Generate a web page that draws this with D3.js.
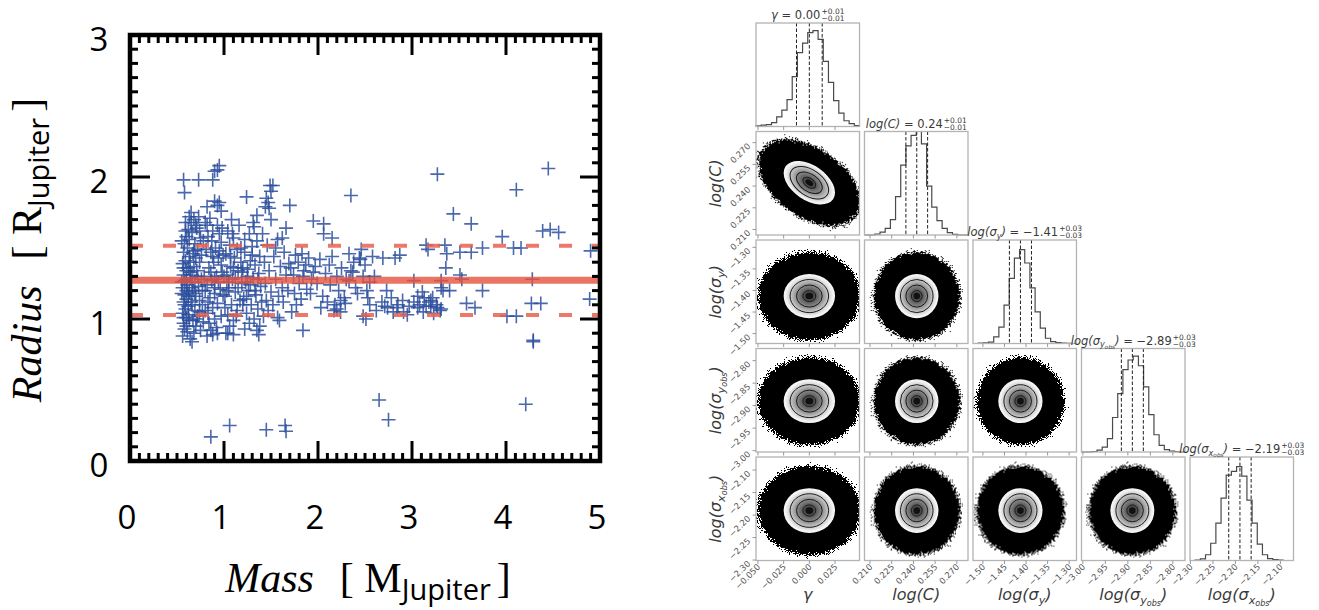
<!DOCTYPE html>
<meta charset="utf-8">
<title>mass radius + corner</title>
<style>
body { margin: 0; background: #fff; }
svg { display: block; }
.corner text { font-family: "DejaVu Sans", sans-serif; fill: #3a3a3a; }
</style>
<body>
<div id="chart"></div>
<script src="https://cdn.jsdelivr.net/npm/d3@7"></script>
<script>
// ---- left panel: planets (mass, radius)
var planets = [
  [3.27,2.02],[4.45,2.06],[4.11,1.91],[2.35,1.87],[3.44,1.74],[3.63,1.67],[3.96,1.58],
  [4.39,1.62],[4.47,1.63],[4.56,1.61],[4.90,1.48],[4.89,1.14],[4.28,1.28],[4.37,1.11],
  [4.27,1.11],[4.29,0.84],[4.29,0.85],[4.21,0.40],[2.65,0.43],[2.75,0.29],[0.86,0.17],
  [1.06,0.25],[1.45,0.22],[1.65,0.25],[1.66,0.21],[4.01,1.02],[4.11,1.02],[4.08,1.50],
  [4.16,1.50],[3.75,1.20],[3.67,1.08],[3.58,1.11],[3.75,1.50],[3.63,1.47],[3.51,1.47],
  [3.51,1.31],[3.53,1.28],[3.36,1.36],[3.37,1.46],[3.15,1.52],[3.17,1.49],[3.31,1.27],
  [3.33,1.20],[3.40,1.20],[3.27,1.08],[3.31,1.07],[3.20,1.09],[3.02,1.27],[2.95,1.03],
  [3.06,1.08],[2.87,1.45],[2.82,1.43],[2.69,1.43],[2.73,1.20],[2.55,1.26],[2.53,1.15],
  [2.51,1.00],[2.48,1.02],[2.71,1.09],[2.84,1.08],[2.91,1.05],[2.80,1.05],[3.06,1.16],
  [3.13,1.15],[3.11,1.19],[3.20,1.13],[3.15,1.09],[2.46,1.49],[2.44,1.43],[2.37,1.33],
  [2.33,1.27],[2.24,1.13],[2.29,1.11],[2.20,1.07],[2.24,1.05],[2.15,1.57],[2.06,1.60],
  [1.95,1.69],[2.06,1.67],[1.84,0.92],[1.70,1.80],[1.66,1.64],[1.62,1.57],[1.49,1.94],
  [1.50,1.90],[1.24,1.86],[1.47,1.82],[1.44,1.79],[1.35,1.73],[1.31,1.68],[1.37,0.89],
  [1.35,0.92],[1.10,0.89],[1.04,0.90],[0.88,0.89],[0.93,0.90],[1.59,0.99],[1.57,1.01],
  [0.57,1.98],[0.73,1.98],[0.58,1.89],[0.88,1.98],[0.93,2.05],[0.95,2.08],[0.90,2.04],
  [0.90,1.83],[0.93,1.80],[0.95,1.82],[0.97,1.76],[0.82,1.79],
  [0.56,0.88],[0.58,0.93],[0.57,0.97],[0.60,1.01],[0.56,1.04],[0.59,1.07],[0.62,1.09],
  [0.57,1.12],[0.60,1.14],[0.58,1.17],[0.63,1.19],[0.56,1.22],[0.61,1.24],[0.58,1.27],
  [0.64,1.29],[0.57,1.31],[0.60,1.34],[0.62,1.36],[0.56,1.39],[0.59,1.41],[0.63,1.44],
  [0.57,1.47],[0.61,1.50],[0.58,1.53],[0.60,1.58],[0.62,1.63],[0.59,1.68],[0.63,1.72],
  [0.55,1.55],[0.61,0.91],[0.64,0.86],[0.60,0.95],[0.62,1.03],[0.65,1.12],[0.55,1.18],
  [0.64,1.33],[0.55,1.26],[0.63,1.56],[0.60,1.20],[0.57,1.01],
  [0.66,0.84],[0.68,0.90],[0.70,0.95],[0.67,0.99],[0.72,1.02],[0.69,1.06],[0.66,1.10],
  [0.74,1.13],[0.70,1.16],[0.67,1.20],[0.73,1.23],[0.69,1.26],[0.76,1.28],[0.66,1.31],
  [0.71,1.34],[0.68,1.37],[0.74,1.40],[0.70,1.43],[0.67,1.46],[0.72,1.49],[0.69,1.53],
  [0.75,1.57],[0.66,1.61],[0.70,1.66],[0.68,1.70],[0.73,1.72],[0.65,1.75],[0.71,1.64],
  [0.78,1.55],[0.77,1.10],[0.79,1.30],[0.78,0.98],[0.75,0.92],[0.80,1.20],[0.76,1.45],
  [0.80,1.68],
  [0.82,0.88],[0.86,0.92],[0.84,0.97],[0.90,1.00],[0.83,1.04],[0.88,1.08],[0.93,1.11],
  [0.85,1.15],[0.90,1.18],[0.96,1.21],[0.82,1.24],[0.87,1.27],[0.92,1.30],[0.98,1.33],
  [0.84,1.36],[0.89,1.40],[0.94,1.43],[0.86,1.47],[0.91,1.50],[0.97,1.54],[0.83,1.58],
  [0.88,1.62],[0.93,1.66],[0.85,1.71],[0.95,1.60],[0.99,1.45],[0.81,1.49],[0.90,1.28],
  [0.97,1.02],[0.92,0.94],[0.99,1.17],[0.87,1.55],
  [1.02,0.90],[1.06,0.95],[1.10,0.99],[1.04,1.03],[1.14,1.06],[1.08,1.10],[1.17,1.13],
  [1.01,1.16],[1.12,1.19],[1.05,1.22],[1.19,1.25],[1.09,1.28],[1.03,1.31],[1.15,1.34],
  [1.07,1.37],[1.18,1.40],[1.11,1.43],[1.02,1.46],[1.14,1.49],[1.06,1.52],[1.10,1.57],
  [1.04,1.62],[1.16,1.66],[1.08,1.70],[1.20,1.10],[1.13,1.02],[1.01,1.08],[1.19,1.33],
  [1.10,1.36],[1.03,1.20],
  [1.22,0.93],[1.27,0.97],[1.32,1.00],[1.24,1.04],[1.36,1.07],[1.29,1.10],[1.21,1.14],
  [1.34,1.17],[1.26,1.20],[1.39,1.23],[1.23,1.26],[1.31,1.29],[1.37,1.32],[1.25,1.35],
  [1.33,1.38],[1.28,1.41],[1.38,1.44],[1.22,1.47],[1.30,1.51],[1.35,1.55],[1.27,1.60],
  [1.32,1.65],[1.40,1.12],[1.38,0.95],[1.25,1.30],
  [1.42,1.02],[1.47,1.06],[1.52,1.10],[1.45,1.13],[1.58,1.16],[1.50,1.19],[1.62,1.22],
  [1.44,1.25],[1.55,1.28],[1.66,1.31],[1.48,1.34],[1.60,1.37],[1.43,1.40],[1.53,1.44],
  [1.64,1.47],[1.46,1.52],[1.57,1.56],[1.68,1.20],[1.41,1.60],[1.50,1.70],[1.55,1.50],
  [1.63,1.12],[1.69,1.39],[1.45,1.85],[1.52,1.94],[1.48,1.78],
  [1.72,1.05],[1.77,1.10],[1.82,1.14],[1.75,1.18],[1.88,1.21],[1.80,1.25],[1.93,1.28],
  [1.74,1.31],[1.85,1.34],[1.97,1.37],[1.79,1.40],[1.90,1.43],[1.83,1.46],[1.95,1.33],
  [1.87,1.38],[1.76,1.45],[1.92,1.18],[1.99,1.25],[1.84,1.30],[1.71,1.36],
  [2.03,1.08],[2.10,1.12],[2.17,1.06],[2.05,1.16],[2.22,1.20],[2.13,1.24],[2.30,1.28],
  [2.08,1.32],[2.25,1.36],[2.38,1.40],[2.15,1.44],[2.33,1.46],[2.45,1.42],[2.20,1.30],
  [2.40,1.22],[2.28,1.15],[2.12,1.38],[2.35,1.34],[2.48,1.30],[2.02,1.42],[2.18,1.10],
  [2.42,1.18],
  [0.58,1.10],[0.62,1.16],[0.66,1.22],[0.69,1.18],[0.72,1.30],[0.60,1.28],[0.64,1.40],
  [0.68,1.48],[0.57,1.36],[0.74,1.05],[0.77,1.20],[0.83,1.12],[0.86,1.33],[0.90,1.22],
  [0.94,1.26],[0.97,1.38],[1.00,1.30],[1.05,1.26],[1.12,1.29],[1.15,1.22],[1.20,1.36],
  [1.24,1.16],[1.28,1.24],[1.33,1.20],[1.36,1.28],[0.63,0.99],[0.71,1.00],[0.80,1.06],
  [0.88,1.44],[0.95,1.48],[1.07,1.44],[1.18,1.50],[1.30,1.45],[0.59,1.62],[0.65,1.68],
  [0.74,1.62],[0.82,1.66],[0.98,1.64],[1.09,1.60],[1.22,1.56],
  [2.55,1.10],[2.62,1.06],[2.68,1.12],[2.74,1.08],[2.78,1.15],[2.85,1.10],[2.90,1.13],
  [2.97,1.09],[3.02,1.12],[3.08,1.10],[3.12,1.05],[3.18,1.12],[3.22,1.15],[3.26,1.10],
  [3.30,1.06],[3.23,1.04],[2.60,1.30],[2.58,1.44],[2.50,1.38],[2.52,1.20],[3.31,1.22],
  [3.35,1.52]
];
var fitMean = 1.273;
var fitBand = [1.028, 1.516];
var massTicks = [0, 1, 2, 3, 4, 5];
var radiusTicks = [0, 1, 2, 3];

// ---- corner plot
var parLabel = [
  [{t: "γ", it: 1}],
  [{t: "log(C)", it: 1}],
  [{t: "log(σ", it: 1}, {t: "y", it: 1, sub: 1}, {t: ")", it: 1}],
  [{t: "log(σ", it: 1}, {t: "y", it: 1, sub: 1}, {t: "obs", it: 1, sub: 2}, {t: ")", it: 1}],
  [{t: "log(σ", it: 1}, {t: "x", it: 1, sub: 1}, {t: "obs", it: 1, sub: 2}, {t: ")", it: 1}]
];
var parMedian = [0.000, 0.2423, -1.413, -2.890, -2.190];
var parSigma  = [0.0125, 0.0075, 0.0256, 0.0244, 0.0249];
var parLo     = [-0.0519, 0.2062, -1.523, -3.003, -2.301];
var parHi     = [0.0488, 0.2777, -1.283, -2.773, -2.071];
var parTitleVal = ["0.00", "0.24", "−1.41", "−2.89", "−2.19"];
var parErrUp    = ["+0.01", "+0.01", "+0.03", "+0.03", "+0.03"];
var parErrDn    = ["−0.01", "−0.01", "−0.03", "−0.03", "−0.03"];
var parTicks = [
  [-0.05, -0.025, 0, 0.025],
  [0.21, 0.225, 0.24, 0.255, 0.27],
  [-1.5, -1.45, -1.4, -1.35, -1.3],
  [-3.0, -2.95, -2.9, -2.85, -2.8],
  [-2.3, -2.25, -2.2, -2.15, -2.1]
];
var parFmt = [".3f", ".3f", ".2f", ".2f", ".2f"];
// histogram heights (20 bins across each panel range)
var histGamma = [0.7,1.4,2,4,10,17,28,52,77,87,98,100,91,68,46,27,14,6,3,1];
var histLogC  = [0,0,1,3,7,16,40,73,93,104,108,95,51,29,15,7,2.5,0.7,0,0];
var histSigY  = [0,0.3,0.7,1.5,7,17,40,68,89,98,84,58,33,16,5.5,2,1,0.5,0.2,0];
var histSigYo = [0,0,0.5,2,5,14,36,61,86,96,100,90,68,39,18,7,2.5,1,0.3,0];
var histSigXo = [0,0.5,1.6,6,18,39,65,89,93,98,88,63,39,17,6,2,1,0.4,0,0];
var hists = [histGamma, histLogC, histSigY, histSigYo, histSigXo];
// correlations of the 2D panels (row > col)
var rho = [
  [],
  [-0.45],
  [0, 0],
  [0, 0, 0],
  [0, 0, 0, 0]
];

var svg = d3.select("#chart").append("svg")
    .attr("width", 1319)
    .attr("height", 610);

var defs = svg.append("defs");

// ================= left panel =================
var x = d3.scaleLinear().domain([0, 5]).range([130, 600]);
var y = d3.scaleLinear().domain([0, 3]).range([461, 35]);

var left = svg.append("g");

left.append("g").selectAll("path")
    .data(planets)
  .enter().append("path")
    .attr("d", function(d) { return "M" + (x(d[0]) - 7) + "," + y(d[1]) + "h14M" + x(d[0]) + "," + (y(d[1]) - 7) + "v14"; })
    .style("stroke", "#2a4d9c")
    .style("stroke-opacity", 0.85)
    .style("stroke-width", 1.6)
    .style("fill", "none");

left.append("line")
    .attr("x1", x(0)).attr("x2", x(5))
    .attr("y1", y(fitMean)).attr("y2", y(fitMean))
    .style("stroke", "#e5533f").style("stroke-opacity", 0.8).style("stroke-width", 7);

left.selectAll(".band")
    .data(fitBand)
  .enter().append("line")
    .attr("class", "band")
    .attr("x1", x(0)).attr("x2", x(5))
    .attr("y1", function(d) { return y(d); }).attr("y2", function(d) { return y(d); })
    .style("stroke", "#e8604d").style("stroke-opacity", 0.85).style("stroke-width", 4)
    .style("stroke-dasharray", "13,20");

// ticks, inward on all four sides
var tk = left.append("g").style("stroke", "#000").style("stroke-width", 3);
d3.range(1, 50).forEach(function(i) {
  var major = i % 10 === 0, len = major ? 20 : 8, xv = x(i / 10);
  tk.append("line").attr("x1", xv).attr("x2", xv).attr("y1", y(0)).attr("y2", y(0) - len);
  tk.append("line").attr("x1", xv).attr("x2", xv).attr("y1", y(3)).attr("y2", y(3) + len);
});
d3.range(1, 30).forEach(function(i) {
  var major = i % 10 === 0, len = major ? 20 : 8, yv = y(i / 10);
  tk.append("line").attr("y1", yv).attr("y2", yv).attr("x1", x(0)).attr("x2", x(0) + len);
  tk.append("line").attr("y1", yv).attr("y2", yv).attr("x1", x(5)).attr("x2", x(5) - len);
});

left.append("rect")
    .attr("x", x(0)).attr("y", y(3))
    .attr("width", x(5) - x(0)).attr("height", y(0) - y(3))
    .style("fill", "none").style("stroke", "#000").style("stroke-width", 4.5);

left.selectAll(".xl")
    .data(massTicks)
  .enter().append("text")
    .attr("x", function(d) { return x(d) - 3; })
    .attr("y", 529)
    .attr("text-anchor", "middle")
    .style("font-family", "'Open Sans', sans-serif")
    .style("font-size", "33px")
    .text(function(d) { return d; });

left.selectAll(".yl")
    .data(radiusTicks)
  .enter().append("text")
    .attr("x", 99)
    .attr("y", function(d) { return y(d) + 16; })
    .attr("text-anchor", "middle")
    .style("font-family", "'Open Sans', sans-serif")
    .style("font-size", "33px")
    .text(function(d) { return d; });

function unitLabel(t, word, letter) {
  t.append("tspan").style("font-family", "'Liberation Serif', serif").style("font-style", "italic").text(word);
  t.append("tspan").attr("dx", 26).style("font-family", "'Liberation Serif', serif").text("[ " + letter);
  t.append("tspan").attr("dy", 8).style("font-family", "'Open Sans', sans-serif").style("font-size", "29px").text("Jupiter");
  t.append("tspan").attr("dy", -8).attr("dx", 6).style("font-family", "'Liberation Serif', serif").text("]");
}
var xt = left.append("text")
    .attr("x", 368).attr("y", 592)
    .attr("text-anchor", "middle")
    .style("font-size", "42px");
unitLabel(xt, "Mass", "M");
var yt = left.append("text")
    .attr("transform", "translate(41,250) rotate(-90)")
    .attr("text-anchor", "middle")
    .style("font-size", "42px");
unitLabel(yt, "Radius", "R");

// ================= corner plot =================
var P = 103.5, STEP = 108.5;
function colX(j) { return 756 + j * STEP; }
function rowY(i) { return 23 + i * STEP; }
var xs = parLo.map(function(lo, j) { return d3.scaleLinear().domain([lo, parHi[j]]).range([colX(j), colX(j) + P]); });
var ys = parLo.map(function(lo, i) { return d3.scaleLinear().domain([lo, parHi[i]]).range([rowY(i) + P, rowY(i)]); });

var cg = defs.append("radialGradient").attr("id", "cloud");
cg.append("stop").attr("offset", 0).attr("stop-color", "#000").attr("stop-opacity", 1);
cg.append("stop").attr("offset", 0.68).attr("stop-color", "#000").attr("stop-opacity", 1);
cg.append("stop").attr("offset", 0.84).attr("stop-color", "#000").attr("stop-opacity", 0.4);
cg.append("stop").attr("offset", 1).attr("stop-color", "#000").attr("stop-opacity", 0);

var dg = defs.append("radialGradient").attr("id", "dens");
[[0, "#353535"], [0.22, "#505050"], [0.5, "#8c8c8c"], [0.75, "#cdcdcd"], [0.9, "#efefef"], [1, "#fafafa"]]
  .forEach(function(s) { dg.append("stop").attr("offset", s[0]).attr("stop-color", s[1]); });

var flt = defs.append("filter").attr("id", "speckle")
    .attr("x", "-10%").attr("y", "-10%").attr("width", "120%").attr("height", "120%")
    .attr("color-interpolation-filters", "sRGB");
flt.append("feTurbulence").attr("type", "fractalNoise").attr("baseFrequency", 1.1)
    .attr("numOctaves", 1).attr("seed", 4).attr("result", "noise");
flt.append("feColorMatrix").attr("in", "noise").attr("type", "matrix")
    .attr("values", "0 0 0 0 0  0 0 0 0 0  0 0 0 0 0  1 0 0 0 0").attr("result", "na");
flt.append("feComposite").attr("in", "SourceAlpha").attr("in2", "na").attr("operator", "arithmetic")
    .attr("k1", 0).attr("k2", 1).attr("k3", -1).attr("k4", 0.45).attr("result", "diff");
var ct = flt.append("feComponentTransfer").attr("in", "diff").attr("result", "th");
ct.append("feFuncA").attr("type", "discrete").attr("tableValues", "0 0 1 1");
flt.append("feFlood").attr("flood-color", "#000").attr("result", "fl");
flt.append("feComposite").attr("in", "fl").attr("in2", "th").attr("operator", "in");

var corner = svg.append("g").attr("class", "corner");

function rich(text, segs, fs) {
  var cur = 0;
  segs.forEach(function(s) {
    var lvl = s.sub || 0;
    var off = [0, 0.25, 0.38][lvl] * fs;
    text.append("tspan")
      .attr("dy", (off - cur).toFixed(2))
      .attr("font-size", [1, 0.7, 0.5][lvl] * fs)
      .attr("font-style", s.it ? "italic" : "normal")
      .text(s.t);
    cur = off;
  });
}

function frame(g, i, j) {
  g.append("rect")
    .attr("x", colX(j)).attr("y", rowY(i)).attr("width", P).attr("height", P)
    .style("fill", "none").style("stroke", "#b3b3b3").style("stroke-width", 1.3);
}

function bottomTicks(g, i, j, labels) {
  parTicks[j].forEach(function(v) {
    var xv = xs[j](v), yb = rowY(i) + P;
    g.append("line").attr("x1", xv).attr("x2", xv).attr("y1", yb).attr("y2", yb + 3.5)
      .style("stroke", "#999").style("stroke-width", 1);
    if (labels) {
      g.append("text")
        .attr("transform", "translate(" + (xv + 3) + "," + (yb + 7) + ") rotate(-45)")
        .attr("text-anchor", "end")
        .attr("font-size", 8.5)
        .style("fill", "#555")
        .text(d3.format(parFmt[j])(v));
    }
  });
}

function leftTicks(g, i, labels) {
  parTicks[i].forEach(function(v) {
    var yv = ys[i](v), xl = colX(0);
    g.append("line").attr("x1", xl - 3.5).attr("x2", xl).attr("y1", yv).attr("y2", yv)
      .style("stroke", "#999").style("stroke-width", 1);
    if (labels) {
      g.append("text")
        .attr("transform", "translate(" + (xl - 5) + "," + (yv + 4) + ") rotate(-45)")
        .attr("text-anchor", "end")
        .attr("font-size", 8.5)
        .style("fill", "#555")
        .text(d3.format(parFmt[i])(v));
    }
  });
}

function title(g, cx, yb, segs, val, up, dn) {
  var tg = g.append("g");
  var t = tg.append("text").attr("y", yb).attr("font-size", 11.5);
  rich(t, segs.concat([{t: " = " + val}]), 11.5);
  var w = t.node().getComputedTextLength();
  var a = tg.append("text").attr("x", w + 1).attr("y", yb - 5).attr("font-size", 7.5).text(up);
  var b = tg.append("text").attr("x", w + 1).attr("y", yb + 2).attr("font-size", 7.5).text(dn);
  var tw = w + 1 + Math.max(a.node().getComputedTextLength(), b.node().getComputedTextLength());
  tg.attr("transform", "translate(" + (cx - tw / 2) + ",0)");
}

// diagonal histograms
parMedian.forEach(function(med, k) {
  var g = corner.append("g");
  var hy = d3.scaleLinear().domain([0, 108]).range([rowY(k) + P, rowY(k)]);
  var counts = hists[k], nb = counts.length;
  var edge = function(b) { return parLo[k] + b * (parHi[k] - parLo[k]) / nb; };
  var pts = [[edge(0), 0]];
  counts.forEach(function(c, b) { pts.push([edge(b), c], [edge(b + 1), c]); });
  pts.push([edge(nb), 0]);
  g.append("path")
    .attr("d", d3.line().x(function(d) { return xs[k](d[0]); }).y(function(d) { return hy(d[1]); })(pts))
    .style("fill", "none").style("stroke", "#4a4a4a").style("stroke-width", 1.2);
  [med - parSigma[k], med, med + parSigma[k]].forEach(function(v) {
    g.append("line")
      .attr("x1", xs[k](v)).attr("x2", xs[k](v))
      .attr("y1", rowY(k)).attr("y2", rowY(k) + P)
      .style("stroke", "#222").style("stroke-width", 1).style("stroke-dasharray", "3.5,2");
  });
  frame(g, k, k);
  bottomTicks(g, k, k, k === 4);
  title(g, colX(k) + P / 2, rowY(k) - 4, parLabel[k], parTitleVal[k], parErrUp[k], parErrDn[k]);
});

// 2D panels
rho.forEach(function(row, i) {
  row.forEach(function(r, j) {
    var g = corner.append("g");
    var cid = "clip" + i + "_" + j;
    defs.append("clipPath").attr("id", cid).append("rect")
      .attr("x", colX(j)).attr("y", rowY(i)).attr("width", P).attr("height", P);
    var cx = xs[j](parMedian[j]), cy = ys[i](parMedian[i]);
    var sx = xs[j](parMedian[j] + parSigma[j]) - cx;
    var sy = cy - ys[i](parMedian[i] + parSigma[i]);
    // screen y points down, so the covariance term flips sign
    var a = sx * sx, c = sy * sy, b = -r * sx * sy;
    var mid = (a + c) / 2, dd = Math.sqrt((a - c) * (a - c) / 4 + b * b);
    var r1 = Math.sqrt(mid + dd), r2 = Math.sqrt(mid - dd);
    var ang = 0.5 * Math.atan2(2 * b, a - c) * 180 / Math.PI;
    var inner = g.append("g").attr("clip-path", "url(#" + cid + ")")
      .append("g").attr("transform", "translate(" + cx + "," + cy + ") rotate(" + ang + ")");
    inner.append("ellipse").attr("rx", 5.0 * r1).attr("ry", 5.0 * r2)
      .style("fill", "url(#cloud)").attr("filter", "url(#speckle)");
    inner.append("ellipse").attr("rx", 2 * r1).attr("ry", 2 * r2).style("fill", "url(#dens)");
    [1.5, 1, 0.5].forEach(function(kk) {
      inner.append("ellipse").attr("rx", kk * r1).attr("ry", kk * r2)
        .style("fill", "none").style("stroke", "#1a1a1a").style("stroke-width", 1);
    });
    inner.append("ellipse").attr("rx", 0.3 * r1).attr("ry", 0.3 * r2).style("fill", "#111");
    frame(g, i, j);
    bottomTicks(g, i, j, i === 4);
    if (j === 0) leftTicks(g, i, true);
  });
});

// axis labels
parLabel.forEach(function(segs, k) {
  var t = corner.append("text")
    .attr("x", colX(k) + P / 2).attr("y", 600)
    .attr("text-anchor", "middle").attr("font-size", 16);
  rich(t, segs, 16);
  if (k > 0) {
    var t2 = corner.append("text")
      .attr("transform", "translate(721," + (rowY(k) + P / 2) + ") rotate(-90)")
      .attr("text-anchor", "middle").attr("font-size", 16);
    rich(t2, segs, 16);
  }
});
</script>
</body>
